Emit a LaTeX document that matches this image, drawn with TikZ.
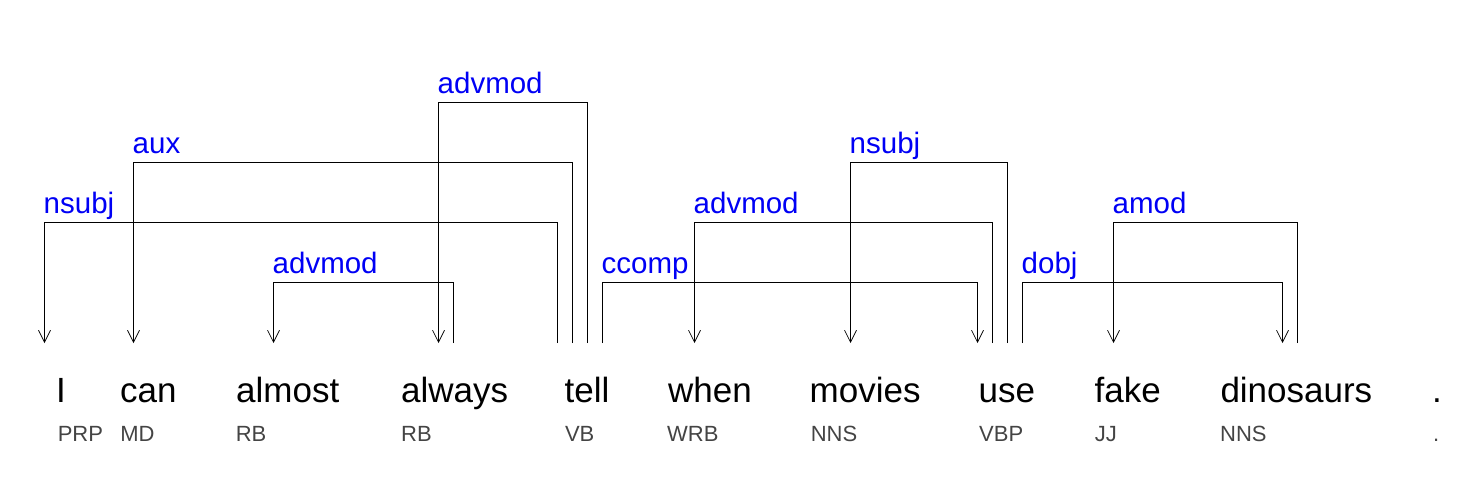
\documentclass[tikz,border=0pt]{standalone}
\usepackage{fontspec}
\setmainfont{Liberation Sans}
\usetikzlibrary{arrows.meta}
\definecolor{tagc}{RGB}{68,68,68}
\definecolor{relc}{RGB}{0,0,245}
\begin{document}
\begin{tikzpicture}[x=1pt,y=-1pt,
  word/.style={font=\fontsize{35}{40}\selectfont, text=black, inner sep=0pt, anchor=base west},
  postag/.style={font=\fontsize{22}{26}\selectfont, text=tagc, inner sep=0pt, anchor=base west},
  rel/.style={font=\fontsize{29.5}{34}\selectfont, text=relc, inner sep=0pt, anchor=base west, xshift=-1pt, yshift=9.5pt},
  dep/.style={line width=1pt, -{Straight Barb[length=12pt,width=12pt,line width=0.7pt]}}
]
\useasboundingbox (0,0) rectangle (1461,487);
% words
\node[word] (w1) at (56,402.7) {I};
\node[word] (w2) at (120,402.7) {can};
\node[word] (w3) at (236,402.7) {almost};
\node[word] (w4) at (401,402.7) {always};
\node[word] (w5) at (564.5,402.7) {tell};
\node[word] (w6) at (668,402.7) {when};
\node[word] (w7) at (809.5,402.7) {movies};
\node[word] (w8) at (978.5,402.7) {use};
\node[word] (w9) at (1094.5,402.7) {fake};
\node[word] (w10) at (1220.3,402.7) {dinosaurs};
\node[word] (w11) at (1432,402.7) {.};
% tags
\node[postag] (t1) at (57.6,441) {PRP};
\node[postag] (t2) at (120.1,441) {MD};
\node[postag] (t3) at (235.6,441) {RB};
\node[postag] (t4) at (401,441) {RB};
\node[postag] (t5) at (564.8,441) {VB};
\node[postag] (t6) at (667,441) {WRB};
\node[postag] (t7) at (810.6,441) {NNS};
\node[postag] (t8) at (979,441) {VBP};
\node[postag] (t9) at (1094.6,441) {JJ};
\node[postag] (t10) at (1220,441) {NNS};
\node[postag] (t11) at (1433,441) {.};
% levels
\coordinate (L1) at (0,102.5);
\coordinate (L2) at (0,162.5);
\coordinate (L3) at (0,222.5);
\coordinate (L4) at (0,282.5);
% attachment points
\coordinate (Iin) at (44.5,343);
\coordinate (canin) at (133.5,343);
\coordinate (almostin) at (273.5,343);
\coordinate (alwaysin) at (438.5,343);
\coordinate (alwaysout) at (453.5,343);
\coordinate (tellA) at (557.5,343);
\coordinate (tellB) at (572.5,343);
\coordinate (tellC) at (587.5,343);
\coordinate (tellD) at (602.5,343);
\coordinate (whenin) at (694.5,343);
\coordinate (moviesin) at (850.5,343);
\coordinate (usein) at (977.5,343);
\coordinate (useA) at (992.5,343);
\coordinate (useB) at (1007.5,343);
\coordinate (useC) at (1022.5,343);
\coordinate (fakein) at (1113.5,343);
\coordinate (dinoin) at (1282.5,343);
\coordinate (dinoout) at (1297.5,343);
% dependencies
\draw[dep] (tellA) -- (tellA |- L3) -| (Iin);
\node[rel] (r1) at (Iin |- L3) {nsubj};
\draw[dep] (tellB) -- (tellB |- L2) -| (canin);
\node[rel] (r2) at (canin |- L2) {aux};
\draw[dep] (alwaysout) -- (alwaysout |- L4) -| (almostin);
\node[rel] (r3) at (almostin |- L4) {advmod};
\draw[dep] (tellC) -- (tellC |- L1) -| (alwaysin);
\node[rel] (r4) at (alwaysin |- L1) {advmod};
\draw[dep] (tellD) -- (tellD |- L4) -| (usein);
\node[rel] (r5) at (tellD |- L4) {ccomp};
\draw[dep] (useA) -- (useA |- L3) -| (whenin);
\node[rel] (r6) at (whenin |- L3) {advmod};
\draw[dep] (useB) -- (useB |- L2) -| (moviesin);
\node[rel] (r7) at (moviesin |- L2) {nsubj};
\draw[dep] (useC) -- (useC |- L4) -| (dinoin);
\node[rel] (r8) at (useC |- L4) {dobj};
\draw[dep] (dinoout) -- (dinoout |- L3) -| (fakein);
\node[rel] (r9) at (fakein |- L3) {amod};
\end{tikzpicture}
\end{document}
